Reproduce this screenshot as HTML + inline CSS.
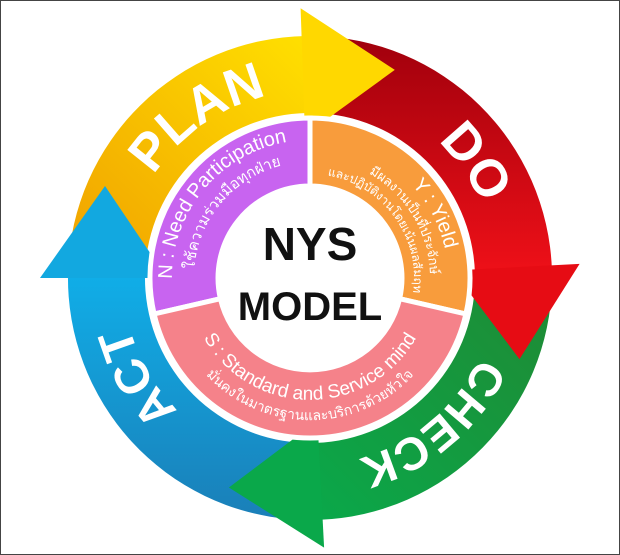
<!DOCTYPE html><html><head><meta charset="utf-8"><style>
html,body{margin:0;padding:0;background:#fff}
#wrap{width:618px;height:553px;border:1px solid #444;overflow:hidden;position:relative}
svg{display:block}
</style></head><body><div id="wrap">
<svg id="s" width="618" height="553" viewBox="1 1 618 553" xmlns="http://www.w3.org/2000/svg" font-family="'Liberation Sans','Noto Sans CJK SC',sans-serif">
<defs>
<linearGradient id="gy" x1="0" y1="1" x2="1" y2="0"><stop offset="0" stop-color="#f0a000"/><stop offset="1" stop-color="#ffe000"/></linearGradient>
<linearGradient id="gr" x1="0" y1="0" x2="0" y2="1"><stop offset="0" stop-color="#a0000c"/><stop offset="1" stop-color="#ee1018"/></linearGradient>
<linearGradient id="gg" x1="1" y1="0" x2="0" y2="1"><stop offset="0" stop-color="#1f8a34"/><stop offset="1" stop-color="#0aa84a"/></linearGradient>
<linearGradient id="gb" x1="0" y1="1" x2="0" y2="0"><stop offset="0" stop-color="#1a7fb8"/><stop offset="1" stop-color="#10aee8"/></linearGradient>
</defs>
<g id="arrows"></g><g id="inner"></g>
</svg></div>
<script>
var cx=310,cy=278;
function P(r,a){a=a*Math.PI/180;return [cx+r*Math.cos(a),cy+r*Math.sin(a)];}
function f(p){return p[0].toFixed(1)+","+p[1].toFixed(1);}
var RI=165,RO=242;
function body(e,fill){
 var start=e-86;
 var d="M"+f(P(RI,start))+" L"+f(P(RO,start))+" A"+RO+","+RO+" 0 0 1 "+f(P(RO,e+1))+
 " L"+f(P(RI,e+1))+" A"+RI+","+RI+" 0 0 0 "+f(P(RI,start))+"Z";
 return '<path d="'+d+'" fill="'+fill+'"/>';
}
function head(e,fill){
 var a=e*Math.PI/180, t=[-Math.sin(a),Math.cos(a)];
 var m=P(205,e), tip=[m[0]+t[0]*92,m[1]+t[1]*92];
 return '<path d="M'+f(P(143,e))+' L'+f(P(270,e))+' L'+f(tip)+'Z" fill="'+fill+'"/>';
}
function arcPath(id,r,a1,a2,cw){
 var large=Math.abs(a2-a1)>180?1:0;
 return '<path id="'+id+'" d="M'+f(P(r,a1))+' A'+r+','+r+' 0 '+large+' '+(cw?1:0)+' '+f(P(r,a2))+'" fill="none"/>';
}
function tp(id,txt,size,weight,fill,off){
 return '<text font-size="'+size+'" font-weight="'+weight+'" fill="'+fill+'"><textPath href="#'+id+'" startOffset="'+(off||"50%")+'" text-anchor="middle">'+txt+'</textPath></text>';
}
function sector(r1,r2,a1,a2,fill){
 var L=(a2-a1)>180?1:0;
 return '<path d="M'+f(P(r2,a1))+' A'+r2+','+r2+' 0 '+L+' 1 '+f(P(r2,a2))+' L'+f(P(r1,a2))+' A'+r1+','+r1+' 0 '+L+' 0 '+f(P(r1,a1))+'Z" fill="'+fill+'" stroke="#fff" stroke-width="5"/>';
}
var A=[[180,"url(#gb)","#12a8e0"],[268,"url(#gy)","#ffd800"],[357,"url(#gr)","#e60c14"],[447,"url(#gg)","#0aa84a"]];
var h="";
A.forEach(function(x){h+=body(x[0],x[1]);});
A.forEach(function(x){h+=head(x[0],x[2]);});
h+=arcPath("aP",187,195,275,true)+tp("aP","PLAN",52,"bold","#fff");
h+=arcPath("aD",187,295,355,true)+tp("aD","DO",52,"bold","#fff");
h+=arcPath("aC",187,15,85,true)+tp("aC","CHECK",46,"bold","#fff");
h+=arcPath("aA",187,120,180,true)+tp("aA","ACT",48,"bold","#fff");
document.getElementById("arrows").innerHTML=h;
var g="";
g+=sector(92,160,167,270,"#c864f0");
g+=sector(92,160,270,373,"#f89c3c");
g+=sector(92,160,13,167,"#f5828a");
g+='<circle cx="'+cx+'" cy="'+cy+'" r="90" fill="#fff"/>';
g+=arcPath("iN1",138,172,268,true)+tp("iN1","N : Need Participation",20,"normal","#fff");
g+=arcPath("iN2",116,175,265,true)+tp("iN2","ใช้ความร่วมมือทุกฝ่าย",15,"normal","#fff");
g+=arcPath("iY1",138,272,370,true)+tp("iY1","Y : Yield",20,"normal","#fff","62%");
g+=arcPath("iY2",120,272,370,true)+tp("iY2","มีผลงานเป็นที่ประจักษ์",13,"normal","#fff","58%");
g+=arcPath("iY3",104,272,370,true)+tp("iY3","และปฏิบัติงานโดยเน้นผลสัมฤทธิ์",12,"normal","#fff","55%");
g+=arcPath("iS1",122,165,15,false)+tp("iS1","S : Standard and Service mind",19,"normal","#fff");
g+=arcPath("iS2",142,165,15,false)+tp("iS2","มั่นคงในมาตรฐานและบริการด้วยหัวใจ",14,"normal","#fff");
g+='<text x="'+cx+'" y="260" text-anchor="middle" font-size="46" font-weight="bold" fill="#111">NYS</text>';
g+='<text x="'+cx+'" y="320" text-anchor="middle" font-size="40" font-weight="bold" fill="#111">MODEL</text>';
document.getElementById("inner").innerHTML=g;
</script>
</body></html>
